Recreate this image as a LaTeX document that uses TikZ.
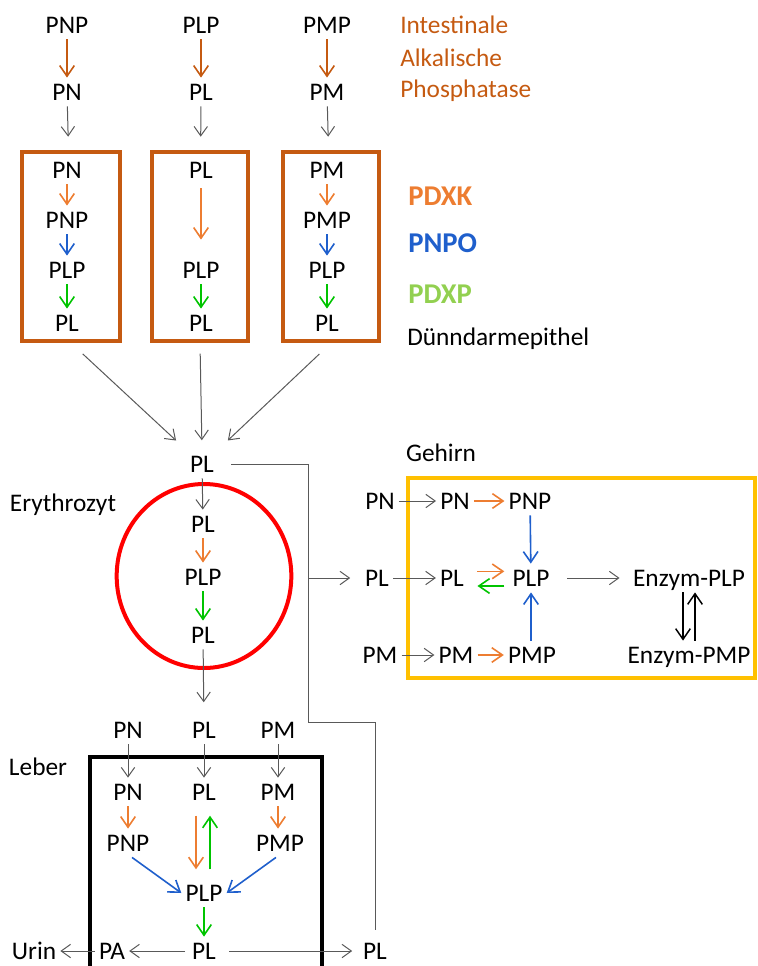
\documentclass[tikz,border=0pt]{standalone}
\usepackage{fontspec}
\setmainfont{Carlito}
\usepackage{xcolor}
\usepackage{tikz}
\usetikzlibrary{positioning,calc,arrows.meta}
\definecolor{alpBrown}{HTML}{C55A11}
\definecolor{pdxkOrange}{HTML}{ED7D31}
\definecolor{pnpoBlue}{HTML}{1F5FCC}
\definecolor{pdxpGreen}{HTML}{00C400}
\definecolor{pdxpLabel}{HTML}{92D050}
\definecolor{brainYellow}{HTML}{FFC000}
\definecolor{lineGray}{HTML}{595959}
\tikzset{
  metab/.style={
    font=\fontsize{19}{23}\selectfont,
    text height=12.2pt,
    text depth=0pt,
    inner xsep=3pt,
    inner ysep=4.5pt
  },
  legendText/.style={
    metab,
    anchor=west,
    inner xsep=0pt
  },
  enzymeLabel/.style={
    font=\bfseries\fontsize{21.5}{25}\selectfont,
    anchor=west,
    inner sep=0pt
  },
  grayArrow/.style={
    -{Straight Barb[length=7pt,width=10pt]},
    draw=lineGray,
    line width=0.75pt
  },
  grayLine/.style={
    draw=lineGray,
    line width=0.75pt
  },
  alpArrow/.style={
    -{Straight Barb[length=8pt,width=11pt]},
    draw=alpBrown,
    line width=1.2pt
  },
  pdxkArrow/.style={
    -{Straight Barb[length=8pt,width=11pt]},
    draw=pdxkOrange,
    line width=1.2pt
  },
  pnpoArrow/.style={
    -{Straight Barb[length=8pt,width=11pt]},
    draw=pnpoBlue,
    line width=1.2pt
  },
  pdxpArrow/.style={
    -{Straight Barb[length=8pt,width=11pt]},
    draw=pdxpGreen,
    line width=1.2pt
  },
  enzymeArrow/.style={
    -{Straight Barb[length=8pt,width=11pt]},
    draw=black,
    line width=1.1pt
  },
  epiBox/.style={
    rectangle,
    draw=alpBrown,
    line width=3pt,
    minimum height=141.75pt
  }
}

\begin{document}
\begin{tikzpicture}[x=0.75pt,y=-0.75pt]
        \useasboundingbox (0,0) rectangle (757,966);

        \node[epiBox, minimum width=73.5pt] (epiL) at (71,246.5) {};
        \node[epiBox, minimum width=72pt] (epiM) at (200,246.5) {};
        \node[epiBox, minimum width=72pt] (epiR) at (331,246.5) {};

        \node[metab] (pnpTop) at (67,25) {PNP};
        \node[metab] (plpTop) at (201,25) {PLP};
        \node[metab] (pmpTop) at (327,25) {PMP};
        \node[metab] (pnTop) at (67,92) {PN};
        \node[metab] (plTop) at (201,92) {PL};
        \node[metab] (pmTop) at (327,92) {PM};

        \draw[alpArrow] (pnpTop) -- (pnTop);
        \draw[alpArrow] (plpTop) -- (plTop);
        \draw[alpArrow] (pmpTop) -- (pmTop);
        \draw[grayArrow, shorten >=10pt] (pnTop) -- (epiL);
        \draw[grayArrow, shorten >=10pt] (plTop) -- (epiM);
        \draw[grayArrow, shorten >=10pt] (pmTop) -- (epiR);

        \node[legendText, text=alpBrown] (alpA) at (400,25) {Intestinale};
        \node[legendText, text=alpBrown] (alpB) at (400,58) {Alkalische};
        \node[legendText, text=alpBrown] (alpC) at (400,89) {Phosphatase};

        \node[metab] (epiPN) at (67,170) {PN};
        \node[metab] (epiPNP) at (67,220) {PNP};
        \node[metab] (epiPLPa) at (67,270) {PLP};
        \node[metab] (epiPLa) at (67,323) {PL};
        \node[metab] (epiPL) at (201,170) {PL};
        \node[metab] (epiPLPb) at (201,270) {PLP};
        \node[metab] (epiPLb) at (201,323) {PL};
        \node[metab] (epiPM) at (327,170) {PM};
        \node[metab] (epiPMP) at (327,220) {PMP};
        \node[metab] (epiPLPc) at (327,270) {PLP};
        \node[metab] (epiPLc) at (327,323) {PL};

        \draw[pdxkArrow] (epiPN) -- (epiPNP);
        \draw[pnpoArrow] (epiPNP) -- (epiPLPa);
        \draw[pdxpArrow] (epiPLPa) -- (epiPLa);
        \draw[pdxkArrow, shorten <=3pt, shorten >=12pt] (epiPL) -- (epiPLPb);
        \draw[pdxpArrow] (epiPLPb) -- (epiPLb);
        \draw[pdxkArrow] (epiPM) -- (epiPMP);
        \draw[pnpoArrow] (epiPMP) -- (epiPLPc);
        \draw[pdxpArrow] (epiPLPc) -- (epiPLc);

        \node[enzymeLabel, text=pdxkOrange] (pdxk) at (408,196) {PDXK};
        \node[enzymeLabel, text=pnpoBlue] (pnpo) at (408,243) {PNPO};
        \node[enzymeLabel, text=pdxpLabel] (pdxp) at (408,294) {PDXP};
        \node[legendText] (epiLabel) at (407,337) {Dünndarmepithel};

        \node[metab] (bloodPL) at (202,464) {PL};
        \draw[grayArrow, shorten <=12pt, shorten >=10pt] (epiL.south) -- (bloodPL.north west);
        \draw[grayArrow, shorten <=8pt, shorten >=7pt] (epiM.south) -- (bloodPL.north);
        \draw[grayArrow, shorten <=12pt, shorten >=10pt] (epiR.south) -- (bloodPL.north east);

        \draw[red, line width=3pt] (204,576) ellipse [x radius=65.5pt, y radius=69pt];
        \node[metab] (eryLabel) at (63,503) {Erythrozyt};
        \node[metab] (eryPL) at (203,524) {PL};
        \node[metab] (eryPLP) at (203,577) {PLP};
        \node[metab] (eryPLb) at (203,635) {PL};
        \draw[grayArrow] (bloodPL) -- (eryPL);
        \draw[pdxkArrow] (eryPL) -- (eryPLP);
        \draw[pdxpArrow] (eryPLP) -- (eryPLb);

        \draw[brainYellow, line width=3pt] (408,478) rectangle (755,678);
        \node[metab] (brainLabel) at (441,453) {Gehirn};
        \node[metab] (brPNo) at (380,501) {PN};
        \node[metab] (brPLo) at (377,578) {PL};
        \node[metab] (brPMo) at (380,655) {PM};
        \node[metab] (brPN) at (455,501) {PN};
        \node[metab] (brPNP) at (530,501) {PNP};
        \node[metab] (brPL) at (452,578) {PL};
        \node[metab] (brPLP) at (531,578) {PLP};
        \node[metab] (brPM) at (456,655) {PM};
        \node[metab] (brPMP) at (532,655) {PMP};
        \node[metab] (enzPLP) at (689,578) {Enzym-PLP};
        \node[metab] (enzPMP) at (689,655) {Enzym-PMP};

        \draw[grayArrow] (brPNo) -- (brPN);
        \draw[grayArrow] (brPLo) -- (brPL);
        \draw[grayArrow] (brPMo) -- (brPM);
        \draw[pdxkArrow] (brPN) -- (brPNP);
        \draw[pdxkArrow] (brPM) -- (brPMP);
        \draw[pnpoArrow] (brPNP) -- (brPLP);
        \draw[pnpoArrow] (brPMP.north -| brPLP) -- (brPLP);
        \draw[pdxkArrow, shorten <=7pt, shorten >=3pt] ([yshift=5pt]brPL.east) -- ([yshift=5pt]brPLP.west);
        \draw[pdxpArrow, shorten <=3pt, shorten >=7pt] ([yshift=-6pt]brPLP.west) -- ([yshift=-6pt]brPL.east);
        \draw[grayArrow, shorten <=10pt, shorten >=7pt] (brPLP) -- (enzPLP);
        \draw[enzymeArrow] ([xshift=-4.5pt]enzPLP.south) -- ([xshift=-4.5pt]enzPMP.north);
        \draw[enzymeArrow] ([xshift=4.5pt]enzPMP.north) -- ([xshift=4.5pt]enzPLP.south);

        \draw[black, line width=3.5pt] (90,970) |- (322,757) -- (322,970);
        \node[metab] (liverLabel) at (38,767) {Leber};
        \node[metab] (livPNo) at (128,730) {PN};
        \node[metab] (livPLo) at (204,730) {PL};
        \node[metab] (livPMo) at (278,730) {PM};
        \node[metab] (livPN) at (128,792) {PN};
        \node[metab] (livPL) at (204,792) {PL};
        \node[metab] (livPM) at (278,792) {PM};
        \node[metab] (livPNP) at (128,843) {PNP};
        \node[metab] (livPMP) at (280,843) {PMP};
        \node[metab] (livPLP) at (204,893) {PLP};
        \node[metab] (livPLb) at (204,951) {PL};
        \node[metab] (livPA) at (112,951) {PA};
        \node[metab] (urine) at (34,951) {Urin};
        \node[metab] (outPL) at (375,951) {PL};

        \draw[grayArrow, shorten >=10pt] (eryPLb) -- (livPLo);
        \draw[grayArrow] (livPNo) -- (livPN);
        \draw[grayArrow] (livPLo) -- (livPL);
        \draw[grayArrow] (livPMo) -- (livPM);
        \draw[pdxkArrow] (livPN) -- (livPNP);
        \draw[pdxkArrow] (livPM.south) -- (livPM.south |- livPMP.north);
        \draw[pdxkArrow, shorten <=7pt, shorten >=7pt] ([xshift=-6pt]livPL.south) -- ([xshift=-6pt]livPLP.north);
        \draw[pdxpArrow, shorten <=7pt, shorten >=7pt] ([xshift=4.5pt]livPLP.north) -- ([xshift=4.5pt]livPL.south);
        \draw[pnpoArrow] ([xshift=3pt]livPNP.south) -- (livPLP.west);
        \draw[pnpoArrow] ([xshift=-3pt]livPMP.south) -- (livPLP.east);
        \draw[pdxpArrow] (livPLP) -- (livPLb);
        \draw[grayArrow, shorten <=2pt] (livPLb) -- (livPA);
        \draw[grayArrow] (livPA) -- (urine);
        \draw[grayArrow, shorten <=7pt, shorten >=5pt] (livPLb) -- (outPL);

        \coordinate (bendA) at (308,722);
        \coordinate (branch) at (308,578);
        \draw[grayLine, shorten <=10pt, shorten >=5pt] (bloodPL.east) -| (bendA) -| (outPL.north);
        \draw[grayArrow, shorten >=8pt] (branch) -- (brPLo);
    \end{tikzpicture}
\end{document}
